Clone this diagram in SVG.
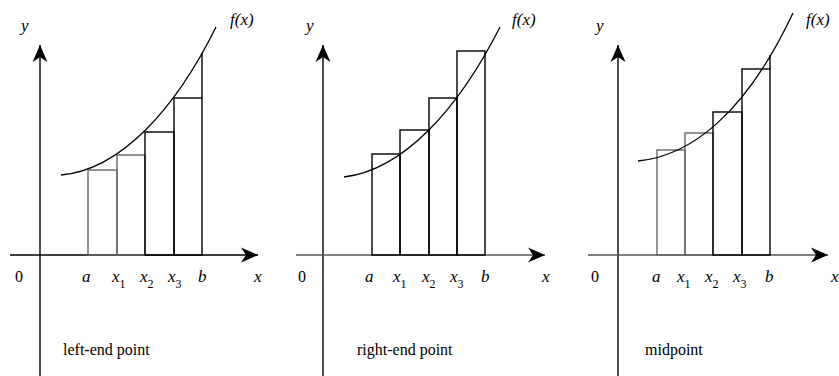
<svg xmlns="http://www.w3.org/2000/svg" width="839" height="376" viewBox="0 0 839 376">
<defs>
<marker id="arr" viewBox="-18 -8 19 16" markerWidth="19" markerHeight="16" refX="0" refY="0" orient="auto" markerUnits="userSpaceOnUse">
<path d="M0,0 L-17,-7.5 L-12,0 L-17,7.5 Z" fill="#000"/>
</marker>
</defs>
<rect width="839" height="376" fill="#fff"/>

<g id="connectors" fill="none" stroke-width="1.4">
<line stroke="#000" x1="40" y1="376" x2="40" y2="45" marker-end="url(#arr)"/>
<line stroke="#000" x1="10" y1="255" x2="258" y2="255" marker-end="url(#arr)"/>
<line stroke="#000" x1="323" y1="376" x2="323" y2="45" marker-end="url(#arr)"/>
<line stroke="#555" stroke-width="1.6" x1="296" y1="255" x2="545" y2="255" marker-end="url(#arr)"/>
<line stroke="#000" x1="618" y1="376" x2="618" y2="45" marker-end="url(#arr)"/>
<line stroke="#555" stroke-width="1.6" x1="588" y1="255" x2="828" y2="255" marker-end="url(#arr)"/>
</g>

<g id="panel-left">
<g fill="none" stroke-width="1.4">
<rect stroke="#666" x="88" y="170" width="29" height="85"/>
<rect stroke="#666" x="117" y="155" width="28" height="100"/>
<rect stroke="#000" x="145" y="132" width="29" height="123"/>
<rect stroke="#000" x="174" y="98" width="28" height="157"/>
<line stroke="#000" x1="202" y1="53" x2="202" y2="98"/>
<path stroke="#000" stroke-width="1.3" d="M61,175 C120,170 175,110 216,27"/>
</g>
<text x="21" y="31" font-family="Liberation Serif" font-size="17" font-style="italic">y</text>
<text x="230" y="25" font-family="Liberation Serif" font-size="17" font-style="italic">f(x)</text>
<text x="15" y="282" font-family="Liberation Serif" font-size="16">0</text>
<text x="82" y="282" font-family="Liberation Serif" font-size="17" font-style="italic">a</text>
<text x="112" y="282" font-family="Liberation Serif" font-size="17" font-style="italic">x<tspan font-size="12" font-style="normal" dy="6">1</tspan></text>
<text x="140" y="282" font-family="Liberation Serif" font-size="17" font-style="italic">x<tspan font-size="12" font-style="normal" dy="6">2</tspan></text>
<text x="168" y="282" font-family="Liberation Serif" font-size="17" font-style="italic">x<tspan font-size="12" font-style="normal" dy="6">3</tspan></text>
<text x="198" y="282" font-family="Liberation Serif" font-size="17" font-style="italic">b</text>
<text x="254" y="282" font-family="Liberation Serif" font-size="17" font-style="italic">x</text>
<text x="63" y="355" font-family="Liberation Serif" font-size="16">left-end point</text>
</g>

<g id="panel-right">
<g fill="none" stroke="#000" stroke-width="1.4">
<rect x="372" y="154" width="28" height="101"/>
<rect x="400" y="130" width="29" height="125"/>
<rect x="429" y="98" width="28" height="157"/>
<rect x="457" y="51" width="28" height="204"/>
<path stroke-width="1.3" d="M344,177 C403,170 458,110 500,27"/>
</g>
<text x="306" y="31" font-family="Liberation Serif" font-size="17" font-style="italic">y</text>
<text x="512" y="25" font-family="Liberation Serif" font-size="17" font-style="italic">f(x)</text>
<text x="298" y="282" font-family="Liberation Serif" font-size="16">0</text>
<text x="365" y="282" font-family="Liberation Serif" font-size="17" font-style="italic">a</text>
<text x="393" y="282" font-family="Liberation Serif" font-size="17" font-style="italic">x<tspan font-size="12" font-style="normal" dy="6">1</tspan></text>
<text x="422" y="282" font-family="Liberation Serif" font-size="17" font-style="italic">x<tspan font-size="12" font-style="normal" dy="6">2</tspan></text>
<text x="450" y="282" font-family="Liberation Serif" font-size="17" font-style="italic">x<tspan font-size="12" font-style="normal" dy="6">3</tspan></text>
<text x="481" y="282" font-family="Liberation Serif" font-size="17" font-style="italic">b</text>
<text x="542" y="282" font-family="Liberation Serif" font-size="17" font-style="italic">x</text>
<text x="357" y="355" font-family="Liberation Serif" font-size="16">right-end point</text>
</g>

<g id="panel-mid">
<g fill="none" stroke-width="1.4">
<rect stroke="#666" x="657" y="150" width="28" height="105"/>
<rect stroke="#666" x="685" y="133" width="28" height="122"/>
<rect stroke="#000" x="713" y="112" width="29" height="143"/>
<rect stroke="#000" x="742" y="69" width="28" height="186"/>
<line stroke="#000" x1="770" y1="55" x2="770" y2="69"/>
<path stroke="#000" stroke-width="1.3" d="M638,161 C690,156 745,115 793,13"/>
</g>
<text x="596" y="31" font-family="Liberation Serif" font-size="17" font-style="italic">y</text>
<text x="806" y="25" font-family="Liberation Serif" font-size="17" font-style="italic">f(x)</text>
<text x="591" y="282" font-family="Liberation Serif" font-size="16">0</text>
<text x="652" y="282" font-family="Liberation Serif" font-size="17" font-style="italic">a</text>
<text x="677" y="282" font-family="Liberation Serif" font-size="17" font-style="italic">x<tspan font-size="12" font-style="normal" dy="6">1</tspan></text>
<text x="705" y="282" font-family="Liberation Serif" font-size="17" font-style="italic">x<tspan font-size="12" font-style="normal" dy="6">2</tspan></text>
<text x="733" y="282" font-family="Liberation Serif" font-size="17" font-style="italic">x<tspan font-size="12" font-style="normal" dy="6">3</tspan></text>
<text x="765" y="282" font-family="Liberation Serif" font-size="17" font-style="italic">b</text>
<text x="831" y="282" font-family="Liberation Serif" font-size="17" font-style="italic">x</text>
<text x="645" y="355" font-family="Liberation Serif" font-size="16">midpoint</text>
</g>
</svg>
